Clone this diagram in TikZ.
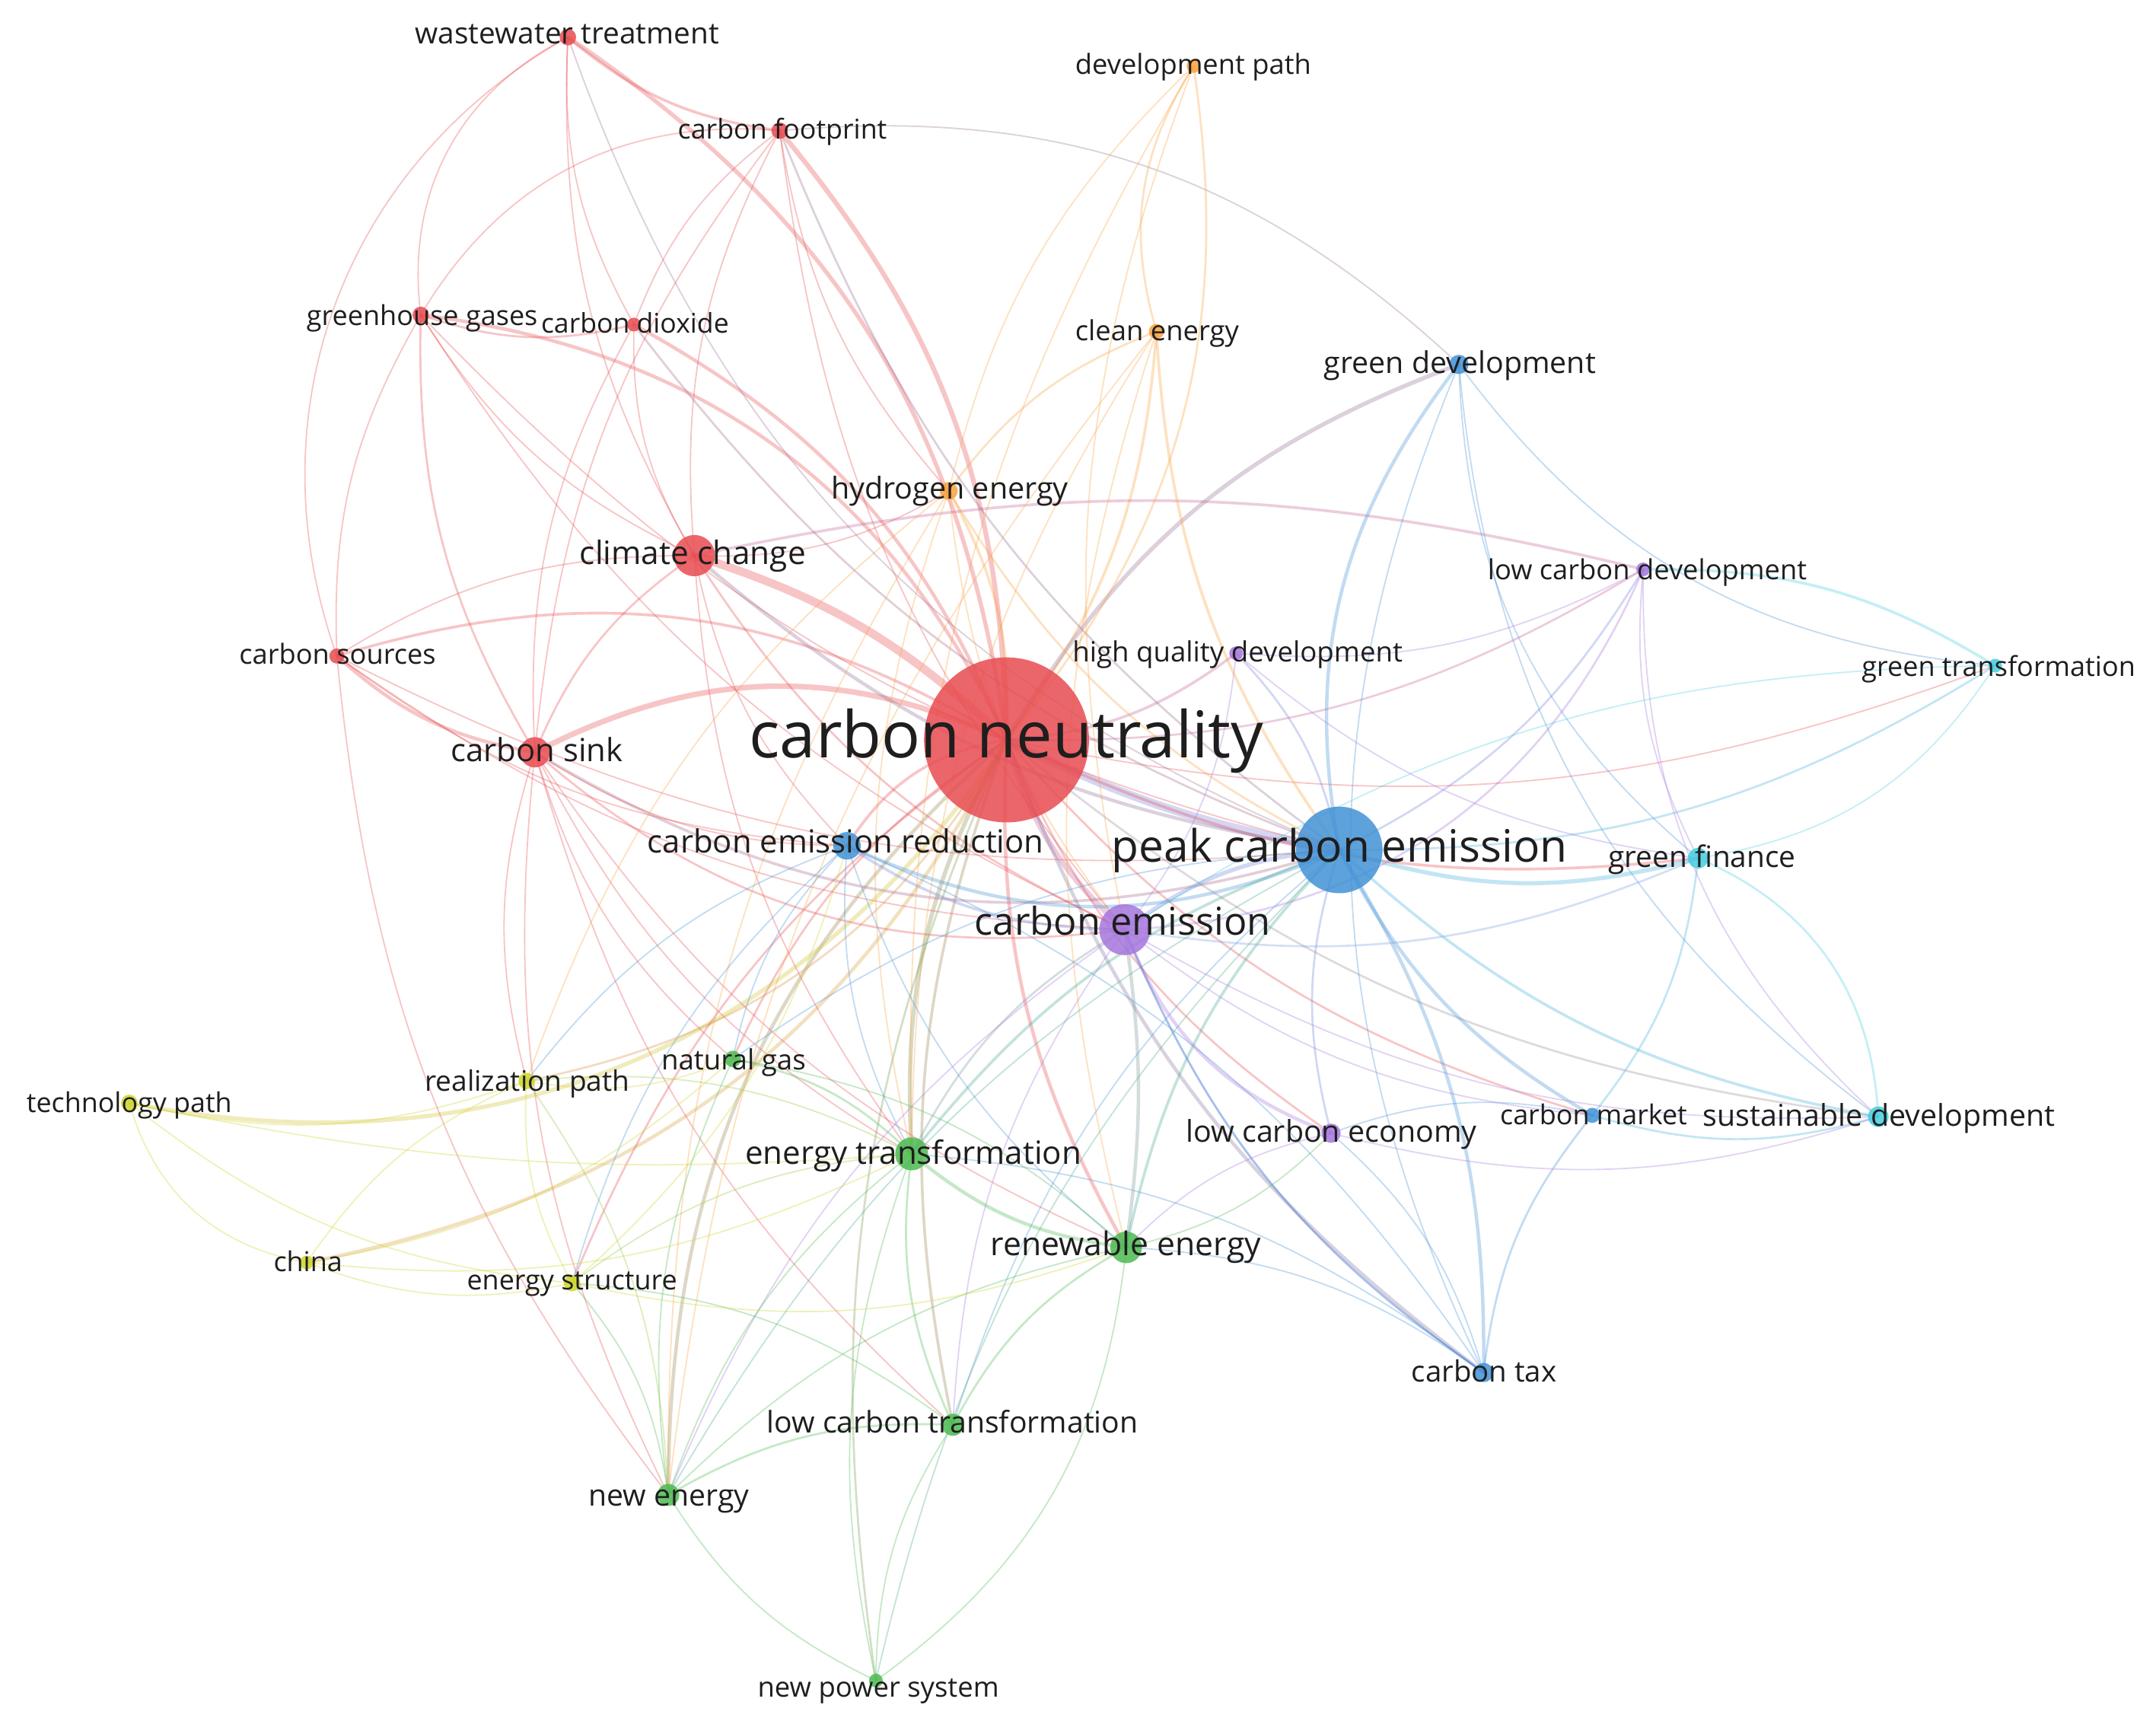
\documentclass[tikz,border=0pt]{standalone}
\usepackage{fontspec}
\setmainfont{Open Sans}
\usepackage{graphicx}
\definecolor{cR}{RGB}{232,76,80}
\definecolor{cB}{RGB}{66,146,214}
\definecolor{cP}{RGB}{165,118,222}
\definecolor{cG}{RGB}{76,186,80}
\definecolor{cC}{RGB}{70,206,224}
\definecolor{cY}{RGB}{206,214,40}
\definecolor{cO}{RGB}{250,162,62}
\definecolor{txt}{RGB}{30,30,30}
\pgfdeclarelayer{bg}
\pgfdeclarelayer{edges}
\pgfsetlayers{bg,edges,main}
\begin{document}
\begin{tikzpicture}[x=1pt,y=-1pt,
  nd/.style={circle,inner sep=0pt,draw=none,fill=#1,fill opacity=0.85},
  lb/.style={anchor=base,inner sep=0pt,text=txt},
  ed/.style={draw=#1,draw opacity=0.32,line cap=round}]
\begin{pgfonlayer}{bg}
\fill[white] (0,0) rectangle (1568,1251);
\end{pgfonlayer}
\useasboundingbox (0,0) rectangle (1568,1251);
% nodes
\node[nd=cR,minimum size=120pt] (cn) at (732,538) {};
\node[nd=cB,minimum size=63pt] (pce) at (974,618) {};
\node[nd=cP,minimum size=37pt] (ce) at (818,676) {};
\node[nd=cR,minimum size=30pt] (cc) at (505,404) {};
\node[nd=cR,minimum size=22pt] (cs) at (389,547) {};
\node[nd=cB,minimum size=20pt] (cer) at (616,615) {};
\node[nd=cG,minimum size=24pt] (et) at (663,839) {};
\node[nd=cG,minimum size=23pt] (re) at (819,907) {};
\node[nd=cC,minimum size=15pt] (gf) at (1235,624) {};
\node[nd=cC,minimum size=15pt] (sd) at (1366,812) {};
\node[nd=cC,minimum size=10pt] (gt) at (1451,484) {};
\node[nd=cB,minimum size=14pt] (gd) at (1061,265) {};
\node[nd=cB,minimum size=11pt] (cm) at (1158,811) {};
\node[nd=cB,minimum size=14pt] (ctax) at (1079,998) {};
\node[nd=cP,minimum size=10pt] (lcd) at (1195,414) {};
\node[nd=cP,minimum size=10pt] (hqd) at (899,475) {};
\node[nd=cP,minimum size=14pt] (lce) at (968,824) {};
\node[nd=cR,minimum size=12pt] (ww) at (413,27) {};
\node[nd=cR,minimum size=12pt] (cf) at (567,95) {};
\node[nd=cR,minimum size=12pt] (gg) at (306,229) {};
\node[nd=cR,minimum size=10pt] (cd) at (461,236) {};
\node[nd=cR,minimum size=11pt] (csrc) at (245,477) {};
\node[nd=cO,minimum size=10pt] (dp) at (868,48) {};
\node[nd=cO,minimum size=11pt] (cle) at (841,241) {};
\node[nd=cO,minimum size=13pt] (he) at (690,357) {};
\node[nd=cG,minimum size=12pt] (ng) at (533,770) {};
\node[nd=cG,minimum size=16pt] (lct) at (693,1036) {};
\node[nd=cG,minimum size=16pt] (ne) at (486,1087) {};
\node[nd=cG,minimum size=10pt] (nps) at (637,1222) {};
\node[nd=cY,minimum size=12pt] (tp) at (94,802) {};
\node[nd=cY,minimum size=12pt] (rp) at (383,786) {};
\node[nd=cY,minimum size=10pt] (ch) at (223,918) {};
\node[nd=cY,minimum size=12pt] (es) at (416,933) {};
% edges
\begin{pgfonlayer}{edges}
\foreach \ea/\eb/\ew/\ecol/\ebend in {
 cn/ww/3/cR/15, cn/cf/3.5/cR/12, cn/gg/2.5/cR/18, cn/cd/2.5/cR/12, cn/cc/6/cR/8,
 cn/cs/4/cR/16, cn/csrc/2/cR/15, cn/he/2/cO/10, cn/cle/2/cO/10,
 cn/pce/6/cP!60!cB/5, cn/ce/4/cR!50!cP/10, cn/cer/2/cR/15, cn/et/3/cR!40!cG/10,
 cn/re/2.5/cR/10, cn/lct/2/cR!50!cG/10, cn/ne/2.5/cR!50!cG/15, cn/nps/1.5/cR!30!cG/10,
 cn/ng/1.5/cR/10, ch/cn/2.5/cY!60!cR/16, tp/cn/3/cY!85!cR/21, tp/rp/1/cY/10,
 rp/cn/1.5/cY!50!cR/15,
 cn/es/1.5/cR/10, gd/cn/3/cB!50!cR/12, cc/lcd/2/cR!50!cP/-8, cn/hqd/2/cR!50!cP/10,
 cn/lcd/1.5/cR!50!cP/10, cn/gf/2/cR/10, cn/cm/1.5/cR/10, cn/ctax/2.5/cR!40!cB/10,
 cn/sd/1.5/cR!50!cC/10, cn/lce/1.5/cR/10, cn/gt/1/cR/10,
 ww/cf/2/cR/10, ww/gg/1/cR/22, ww/cd/1/cR/10, ww/cc/1/cR/10, ww/pce/1/cR!50!cB/15,
 ww/csrc/1/cR/25, cf/gg/1/cR/20, cf/cd/1/cR/10, cf/cc/1/cR/10, cf/pce/1.5/cR!50!cB/10,
 cf/cs/1/cR/10, cf/ce/1/cR/10, cf/gd/1/cR!50!cB/-15, cf/he/1/cR/10,
 gg/cd/1.5/cR/10, gg/cc/1/cR/10, gg/csrc/1/cR/10, gg/cs/1.5/cR/10, gg/ce/1/cR/10,
 gg/pce/1/cR/10, cd/cc/1/cR/10, cd/cs/1/cR/10, cd/pce/1.5/cR!60!cB/10,
 cc/cs/1.5/cR/10, cc/csrc/1/cR/10, cc/pce/2.5/cR!50!cB/10, cc/ce/1.5/cR/10,
 cc/he/1/cR/10, cc/cer/1/cR/10, cc/et/1/cR/10,
 csrc/cs/2.5/cR/10, csrc/ce/1/cR/10, csrc/pce/1/cR/10, csrc/cer/1/cR/10, csrc/ne/1/cR/10,
 cs/pce/2/cR!60!cB/15, cs/ce/1.5/cR/15, cs/cer/1/cR/10, cs/et/1/cR/10, cs/ng/1/cR/10,
 cs/re/1/cR/10, cs/ne/1/cR/10, cs/rp/1/cR/10, cs/lct/1/cR/10,
 dp/cn/1.5/cO/-15, dp/cle/1.5/cO/15, dp/he/1/cO/10, dp/ce/1/cO/10, dp/et/1/cO/10,
 cle/he/1.5/cO/10, cle/pce/2/cO/10, cle/et/1/cO/10, cle/re/1/cO/10, cle/ne/1/cO/10,
 he/pce/1.5/cO/10, he/ce/1/cO/10, he/et/1/cO/10, he/ne/1/cO/10, he/rp/1/cO/10,
 pce/gd/2.5/cB/-15, pce/gf/3/cB!50!cC/10, pce/cm/2.5/cB/10, pce/ctax/2.5/cB/-10,
 pce/sd/2/cB!50!cC/10, pce/lcd/1.5/cB!50!cP/10, pce/gt/1.5/cB!50!cC/10,
 pce/hqd/1.5/cB!50!cP/10, pce/lce/1.5/cB!50!cP/10, pce/ce/3/cB!50!cP/10,
 pce/cer/2.5/cB/-15, pce/et/2/cB!50!cG/10, pce/re/2/cB!50!cG/10, pce/ne/1/cB!50!cG/10,
 pce/lct/1/cB/10, pce/ng/1/cB/10, pce/nps/1/cB!40!cG/10,
 gd/gf/1/cB/15, gd/ctax/1/cB/15, gd/gt/1/cB/15, gd/sd/1/cB/15,
 cm/ctax/1.5/cB/10, cm/sd/1.5/cB!50!cC/10, cm/gf/1.5/cB!50!cC/10, cm/lce/1/cB/10,
 ctax/re/1/cB/10, ctax/et/1/cB/10, ctax/lce/1/cB/10, ctax/ce/1.5/cB/-10, ctax/cer/1/cB/10,
 cer/et/1/cB/10, cer/re/1/cB/10, cer/ng/1/cB/10, cer/ce/2/cB!50!cP/10, cer/rp/1/cB/10,
 cer/es/1/cB/10,
 ce/lcd/1.5/cP/20, ce/lce/2.5/cP/15, ce/hqd/1/cP/10, ce/re/2.5/cP!50!cG/-5,
 ce/et/1.5/cP!50!cG/10, ce/gf/1.5/cP!50!cC/10, ce/cm/1/cP/10, ce/sd/1/cP/10,
 ce/ctax/1.5/cP!50!cB/10, ce/ne/1/cP/10, ce/lct/1/cP/10,
 lcd/gt/2/cC/-10, lcd/gf/1/cP/10, lcd/sd/1/cP/15, hqd/gf/1/cP/10, hqd/lcd/1/cP/10,
 lce/sd/1/cP/10, lce/re/1/cP/10,
 gf/gt/1/cC/15, gf/sd/1.5/cC/-20, gt/ce/1/cC/10,
 et/ng/1.5/cG/10, et/re/2.5/cG/10, et/lct/1.5/cG/10, et/ne/1/cG/10, et/nps/1/cG/10,
 et/es/1/cG!50!cY/10, et/rp/1/cG!50!cY/10, re/lct/1.5/cG/10, re/ne/1/cG/10,
 re/nps/1/cG/-15, re/lce/1/cG/10, re/ng/1/cG/10, lct/ne/1.5/cG/10, lct/nps/1/cG/10,
 ne/nps/1/cG/10, ng/ne/1/cG/10, ne/es/1/cG/10, ne/rp/1/cG!50!cY/10, lct/es/1/cG/10,
 tp/ch/1/cY/20, tp/es/1/cY/10, tp/et/1/cY/5, rp/ch/1/cY/10, rp/es/1/cY/10,
 rp/ng/1/cY/10, ch/es/1/cY/10, ch/et/1/cY/10, ch/ng/1/cY/10, es/re/1/cY/10,
 es/cer/1/cY/10}
 {\pgfmathsetmacro\bb{1.6*\ebend}
  \draw[ed=\ecol,line width=\ew pt] (\ea.center) to[bend right=\bb] (\eb.center);}
\end{pgfonlayer}
% labels
\node[lb] (l-ww) at (412.5,32) {\resizebox{221pt}{!}{wastewater treatment}};
\node[lb] (l-cf) at (569,101) {\resizebox{152pt}{!}{carbon footprint}};
\node[lb] (l-dp) at (867.8,54) {\resizebox{171.5pt}{!}{development path}};
\node[lb] (l-gg) at (307,236.7) {\resizebox{168pt}{!}{greenhouse gases}};
\node[lb] (l-cd) at (461.8,242) {\resizebox{136.5pt}{!}{carbon dioxide}};
\node[lb] (l-cle) at (841.5,247.5) {\resizebox{119pt}{!}{clean energy}};
\node[lb] (l-gd) at (1061.8,271.3) {\resizebox{197.6pt}{!}{green development}};
\node[lb] (l-he) at (690.7,362.8) {\resizebox{172.6pt}{!}{hydrogen energy}};
\node[lb] (l-cc) at (503.9,410.5) {\resizebox{164.3pt}{!}{climate change}};
\node[lb] (l-lcd) at (1198,421.6) {\resizebox{232pt}{!}{low carbon development}};
\node[lb] (l-csrc) at (245.5,483) {\resizebox{143pt}{!}{carbon sources}};
\node[lb] (l-hqd) at (900,481) {\resizebox{240pt}{!}{high quality development}};
\node[lb] (l-gt) at (1453.5,491.8) {\resizebox{199pt}{!}{green transformation}};
\node[lb] (l-cn) at (732,551) {\resizebox{374pt}{!}{carbon neutrality}};
\node[lb] (l-cs) at (390.5,553.5) {\resizebox{125pt}{!}{carbon sink}};
\node[lb] (l-cer) at (615,620) {\resizebox{288pt}{!}{carbon emission reduction}};
\node[lb] (l-pce) at (974.3,627) {\resizebox{331.4pt}{!}{peak carbon emission}};
\node[lb] (l-gf) at (1237.8,630.4) {\resizebox{136.5pt}{!}{green finance}};
\node[lb] (l-ce) at (816.5,680) {\resizebox{215pt}{!}{carbon emission}};
\node[lb] (l-ng) at (533.5,777.8) {\resizebox{105pt}{!}{natural gas}};
\node[lb] (l-rp) at (383.5,793.4) {\resizebox{149pt}{!}{realization path}};
\node[lb] (l-tp) at (94,809) {\resizebox{149.3pt}{!}{technology path}};
\node[lb] (l-cm) at (1159,817.6) {\resizebox{136pt}{!}{carbon market}};
\node[lb] (l-sd) at (1366.6,818.6) {\resizebox{255.9pt}{!}{sustainable development}};
\node[lb] (l-lce) at (968.3,830.7) {\resizebox{211.5pt}{!}{low carbon economy}};
\node[lb] (l-et) at (664.3,846.6) {\resizebox{244.5pt}{!}{energy transformation}};
\node[lb] (l-re) at (818.8,912.7) {\resizebox{196.5pt}{!}{renewable energy}};
\node[lb] (l-ch) at (224,924.6) {\resizebox{50pt}{!}{china}};
\node[lb] (l-es) at (416,938) {\resizebox{152.8pt}{!}{energy structure}};
\node[lb] (l-ctax) at (1079.3,1005) {\resizebox{105.5pt}{!}{carbon tax}};
\node[lb] (l-lct) at (692.7,1042) {\resizebox{270pt}{!}{low carbon transformation}};
\node[lb] (l-ne) at (486.4,1095) {\resizebox{116.7pt}{!}{new energy}};
\node[lb] (l-nps) at (638.8,1234) {\resizebox{175.5pt}{!}{new power system}};
\end{tikzpicture}
\end{document}
